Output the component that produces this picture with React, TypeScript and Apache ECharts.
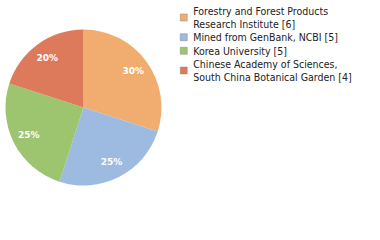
import React, { useEffect, useRef } from "react";
import * as echarts from "echarts";

const categories = [
  "Forestry and Forest Products\nResearch Institute [6]",
  "Mined from GenBank, NCBI [5]",
  "Korea University [5]",
  "Chinese Academy of Sciences,\nSouth China Botanical Garden [4]",
];
const values = [6, 5, 5, 4];
const colors = ["#f0ad6f", "#9dbbe0", "#9dc46f", "#dd7a5b"];

export default function App() {
  const ref = useRef<HTMLDivElement>(null);
  useEffect(() => {
    document.body.style.margin = "0";
    const chart = echarts.init(ref.current!, undefined, { renderer: "svg" });
    const total = values.reduce((a, b) => a + b, 0);
    const data = categories.map((name, i) => ({ name, value: values[i] }));
    chart.setOption({
      animation: false,
      color: colors,
      legend: {
        orient: "vertical",
        left: 175,
        top: 0,
        itemWidth: 7,
        itemHeight: 7,
        itemGap: 1,
        icon: "rect",
        itemStyle: { borderColor: "#888", borderWidth: 0.5 },
        textStyle: {
          fontFamily: "DejaVu Sans Condensed",
          fontSize: 10.5,
          lineHeight: 12.5,
          color: "#222",
          padding: [0, 0, 0, 1],
        },
        data: categories,
      },
      series: [
        {
          type: "pie",
          center: [83.5, 107.5],
          radius: 78,
          startAngle: 90,
          clockwise: true,
          label: { show: false },
          labelLine: { show: false },
          silent: true,
          data,
        },
        {
          type: "pie",
          center: [83.5, 107.5],
          radius: [39, 78],
          startAngle: 90,
          clockwise: true,
          silent: true,
          itemStyle: { color: "rgba(0,0,0,0)" },
          label: {
            show: true,
            position: "inside",
            color: "#fff",
            fontFamily: "DejaVu Sans",
            fontWeight: "bold",
            fontSize: 9,
            formatter: (p: any) => Math.round((p.value / total) * 100) + "%",
          },
          labelLine: { show: false },
          data,
        },
      ],
    });
    return () => chart.dispose();
  }, []);
  return <div ref={ref} style={{ width: 380, height: 240 }} />;
}
